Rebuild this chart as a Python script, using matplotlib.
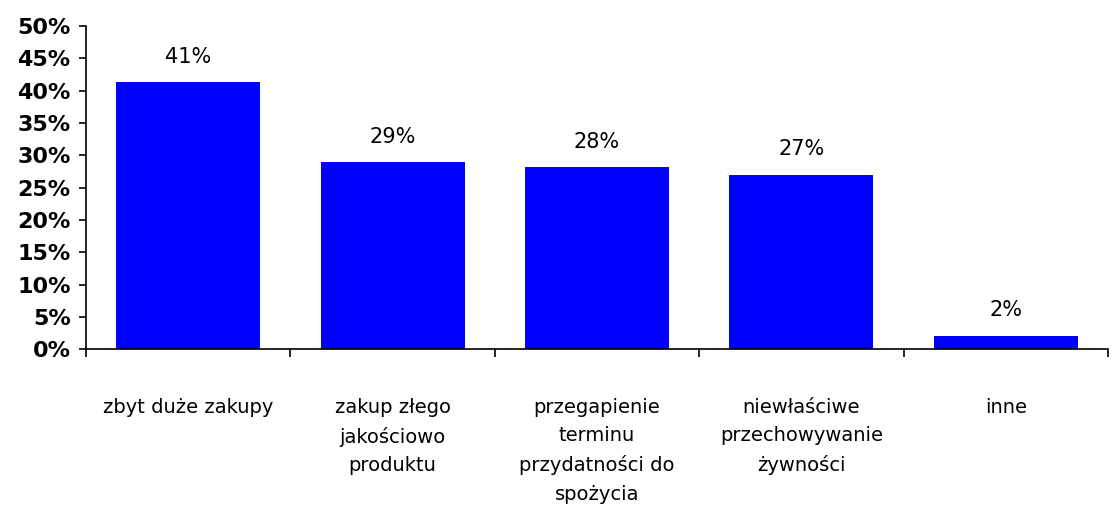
import matplotlib
matplotlib.use("Agg")
import matplotlib.pyplot as plt
from matplotlib.ticker import MultipleLocator, FuncFormatter, FixedLocator

categories = ["zbyt duże zakupy", "zakup złego\njakościowo\nproduktu",
              "przegapienie\nterminu\nprzydatności do\nspożycia",
              "niewłaściwe\nprzechowywanie\nżywności", "inne"]
values = [41.3, 28.9, 28.2, 27.0, 2.1]
labels = ["41%", "29%", "28%", "27%", "2%"]

plt.rcParams['font.family'] = ['DejaVu Sans']
fig = plt.figure(figsize=(11.12, 5.12), dpi=100)
ax = fig.add_axes([0.0773, 0.318, 0.9191, 0.631])

x = list(range(len(categories)))
bars = ax.bar(x, values, width=0.705, color="#0000FF", zorder=2)
for xi, v, lab in zip(x, values, labels):
    ax.annotate(lab, (xi, v), xytext=(0, 11), textcoords="offset points",
                ha="center", va="bottom", fontsize=15)

ax.set_xlim(-0.5, len(categories) - 0.5)
ax.set_ylim(0, 50)
ax.yaxis.set_major_locator(MultipleLocator(5))
ax.yaxis.set_major_formatter(FuncFormatter(lambda v, p: f"{v:.0f}%"))
ax.tick_params(axis="y", labelsize=16, length=5, width=1.2, direction="out", pad=6)
for t in ax.get_yticklabels():
    t.set_fontweight("bold")

ax.xaxis.set_major_locator(FixedLocator([i - 0.5 for i in range(len(categories) + 1)]))
ax.xaxis.set_major_formatter(FuncFormatter(lambda v, p: ""))
ax.xaxis.set_minor_locator(FixedLocator(x))
ax.set_xticklabels(categories, minor=True)
ax.tick_params(axis="x", which="major", length=6, width=1.2, direction="out")
ax.tick_params(axis="x", which="minor", length=0, pad=35, labelsize=14)
for t in ax.get_xticklabels(minor=True):
    t.set_linespacing(1.63)
    t.set_verticalalignment("top")

ax.spines["top"].set_visible(False)
ax.spines["right"].set_visible(False)
ax.spines["left"].set_linewidth(1.2)
ax.spines["bottom"].set_linewidth(1.2)

fig.savefig("out.png", dpi=100)
